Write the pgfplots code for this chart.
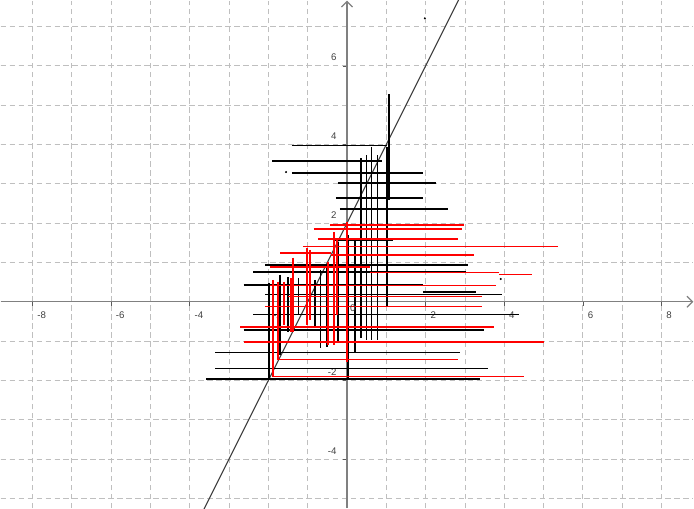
\documentclass[border=0pt]{standalone}
\usepackage{pgfplots}
\pgfplotsset{compat=1.18}
\usetikzlibrary{arrows.meta}
\usepackage{fontspec}
\setmainfont{Liberation Sans}
\begin{document}
\begin{tikzpicture}
\begin{axis}[
  x=1cm, y=1cm,
  xmin=-8.81, xmax=8.81, ymin=-5.25, ymax=7.66,
  axis lines=middle,
  axis line style={color=gray, line width=0.9pt, -{Straight Barb[length=4pt]}},
  xtick={-8,-6,-4,-2,2,4,6,8},
  ytick={-4,-2,2,4,6},
  minor xtick={-8,...,8},
  minor ytick={-5,...,7},
  grid=both,
  major grid style={gray!50, dash pattern=on 4pt off 2.5pt, line width=0.6pt},
  minor grid style={gray!50, dash pattern=on 4pt off 2.5pt, line width=0.6pt},
  minor tick length=0pt,
  major tick length=3pt,
  tick style={gray!70!black, line width=0.5pt},
  tick align=outside,
  /pgf/number format/assume math mode=true,
  xticklabel style={font=\scriptsize, color=gray!50!black, anchor=north west, xshift=0pt, yshift=-1pt},
  yticklabel style={font=\scriptsize, color=gray!50!black, anchor=south east, xshift=-1pt, yshift=0pt},
  unbounded coords=jump,
  clip=true,
]
% diagonal line y = 2x + 2
\addplot[color=black!75, line width=0.8pt] coordinates {(-3.8,-5.6) (2.9,7.8)};
% black horizontal segments
\addplot[black, line width=1.05pt] coordinates {
(-1.40,3.98) (1.02,3.98) (nan,nan)
(-1.90,3.58) (0.89,3.58) (nan,nan)
(-1.40,3.27) (1.93,3.27) (nan,nan)
(-0.23,3.02) (2.26,3.02) (nan,nan)
(-0.28,2.64) (1.93,2.64) (nan,nan)
(-0.18,2.36) (2.56,2.36) (nan,nan)
(-0.30,1.57) (1.17,1.57) (nan,nan)
(-2.08,0.94) (3.07,0.94) (nan,nan)
(-2.38,0.76) (3.02,0.76) (nan,nan)
(-2.63,0.43) (1.93,0.43) (nan,nan)
(1.93,0.25) (3.27,0.25) (nan,nan)
(-2.08,0.18) (3.93,0.18) (nan,nan)
(-2.38,-0.33) (4.37,-0.33) (nan,nan)
(-2.63,-0.72) (3.48,-0.72) (nan,nan)
(-3.35,-1.29) (2.87,-1.29) (nan,nan)
(-3.35,-1.70) (3.58,-1.70) (nan,nan)
(-3.58,-1.96) (3.38,-1.96)
};
% black vertical segments
\addplot[black, line width=1.05pt] coordinates {
(1.07,5.28) (1.07,2.59) (nan,nan)
(1.02,3.93) (1.02,-0.13) (nan,nan)
(0.78,3.73) (0.78,-0.96) (nan,nan)
(0.63,3.93) (0.63,-0.96) (nan,nan)
(0.50,3.73) (0.50,-0.96) (nan,nan)
(0.36,3.65) (0.36,-0.91) (nan,nan)
(0.20,1.57) (0.20,-1.29) (nan,nan)
(0.03,1.70) (0.03,-1.96) (nan,nan)
(-0.23,1.52) (-0.23,-1.02) (nan,nan)
(-0.51,0.94) (-0.51,-1.14) (nan,nan)
(-0.68,0.81) (-0.68,-1.17) (nan,nan)
(-0.81,0.56) (-0.81,-0.66) (nan,nan)
(-1.24,0.61) (-1.24,-0.33) (nan,nan)
(-1.50,0.63) (-1.50,-0.76) (nan,nan)
(-1.70,0.69) (-1.70,-1.35) (nan,nan)
(-1.98,0.48) (-1.98,-1.96)
};
% red horizontal segments
\addplot[red, line width=1.05pt] coordinates {
(-0.43,1.95) (2.97,1.95) (nan,nan)
(-0.84,1.85) (2.92,1.85) (nan,nan)
(-0.74,1.60) (2.82,1.60) (nan,nan)
(-1.12,1.40) (5.36,1.40) (nan,nan)
(-1.70,1.24) (-0.40,1.24) (nan,nan)
(-0.40,1.19) (3.22,1.19) (nan,nan)
(-1.95,0.89) (0.58,0.89) (nan,nan)
(0.58,0.74) (3.87,0.74) (nan,nan)
(3.87,0.69) (4.70,0.69) (nan,nan)
(-1.95,0.42) (3.78,0.42) (nan,nan)
(-1.50,0.13) (3.43,0.13) (nan,nan)
(-2.08,-0.12) (3.43,-0.12) (nan,nan)
(-2.72,-0.64) (3.73,-0.64) (nan,nan)
(-2.63,-1.02) (5.00,-1.02) (nan,nan)
(-1.75,-1.47) (2.82,-1.47) (nan,nan)
(-1.90,-1.90) (4.49,-1.90)
};
% red vertical segments
\addplot[red, line width=1.05pt] coordinates {
(0.00,2.03) (0.00,-1.52) (nan,nan)
(-0.25,1.57) (-0.25,-0.33) (nan,nan)
(-0.33,1.78) (-0.33,-1.09) (nan,nan)
(-0.48,1.02) (-0.48,-1.09) (nan,nan)
(-0.94,1.32) (-0.94,-0.46) (nan,nan)
(-1.02,1.37) (-1.02,-0.58) (nan,nan)
(-1.37,1.12) (-1.37,-0.76) (nan,nan)
(-1.42,0.61) (-1.42,-0.76) (nan,nan)
(-1.60,0.51) (-1.60,-0.58) (nan,nan)
(-1.75,0.51) (-1.75,-1.47) (nan,nan)
(-1.88,0.56) (-1.88,-1.90)
};
% small points
\addplot[only marks, mark=*, mark size=0.5pt, black] coordinates {(-1.55,3.30) (3.91,0.58) (1.98,7.21)};
\node[font=\scriptsize, color=gray!50!black, anchor=north west, inner sep=2pt] at (axis cs:0,0) {0};
\coordinate (bl) at (axis cs:-8.81,-5.25);
\coordinate (tr) at (axis cs:8.81,7.66);
\end{axis}
\path (bl) rectangle (tr);
\end{tikzpicture}
\end{document}
